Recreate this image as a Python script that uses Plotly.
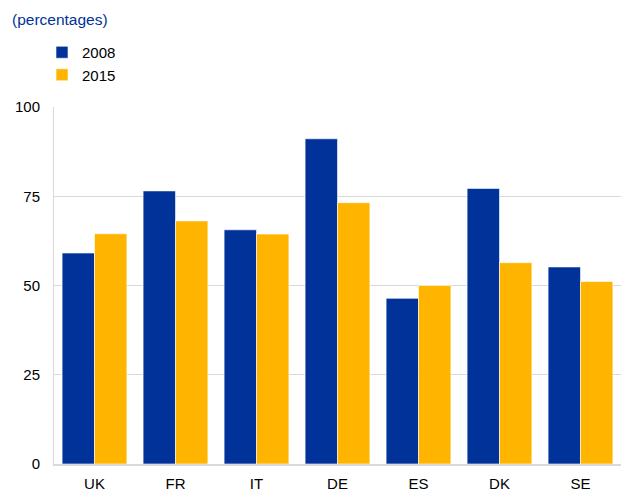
import plotly.graph_objects as go

categories = ["UK", "FR", "IT", "DE", "ES", "DK", "SE"]
values_2008 = [59.1, 76.5, 65.6, 91.1, 46.4, 77.2, 55.2]
values_2015 = [64.5, 68.1, 64.4, 73.2, 50.0, 56.4, 51.1]
series_names = ["2008", "2015"]
y_ticks = [0, 25, 50, 75, 100]

BLUE = "#003299"
YELLOW = "#FFB400"

# page body has an 8px default margin: figure is offset by (8, 8)
W, H = 626, 496
fig = go.Figure()
fig.add_trace(go.Bar(x=categories, y=values_2008, name=series_names[0],
                     marker=dict(color=BLUE, line=dict(color="rgba(255,255,255,0.6)", width=1))))
fig.add_trace(go.Bar(x=categories, y=values_2015, name=series_names[1],
                     marker=dict(color=YELLOW, line=dict(color="rgba(255,255,255,0.6)", width=1))))

fig.update_layout(
    width=W, height=H,
    margin=dict(l=46, r=13, t=99, b=40, autoexpand=False),
    paper_bgcolor="white", plot_bgcolor="white",
    barmode="group", bargap=0.2, bargroupgap=0,
    font=dict(family="Liberation Sans, Arial, sans-serif", size=15, color="#000000"),
    showlegend=True,
    legend=dict(x=34/W, y=1 - 28/H, xref="container", yref="container",
                xanchor="left", yanchor="top",
                orientation="v", font=dict(size=15, color="#000"),
                bgcolor="rgba(0,0,0,0)", itemwidth=30, tracegroupgap=0),
)
fig.add_annotation(text="(percentages)", xref="paper", yref="paper",
                   x=-44/567, y=1 + (107-20)/357, xanchor="left", yanchor="middle",
                   showarrow=False, font=dict(size=15.5, color=BLUE))

fig.update_xaxes(showgrid=False, showline=True, linecolor="#d9d9d9", linewidth=2,
                 ticks="", tickfont=dict(size=15), ticklabelstandoff=5, automargin=False)
fig.update_yaxes(range=[0, 100], tickvals=y_ticks, showgrid=True, gridcolor="#d9d9d9",
                 gridwidth=1, zeroline=False, showline=True, linecolor="#d9d9d9", linewidth=1,
                 ticks="", tickfont=dict(size=15), ticklabelstandoff=10, automargin=False)

fig.write_html("out.html")
